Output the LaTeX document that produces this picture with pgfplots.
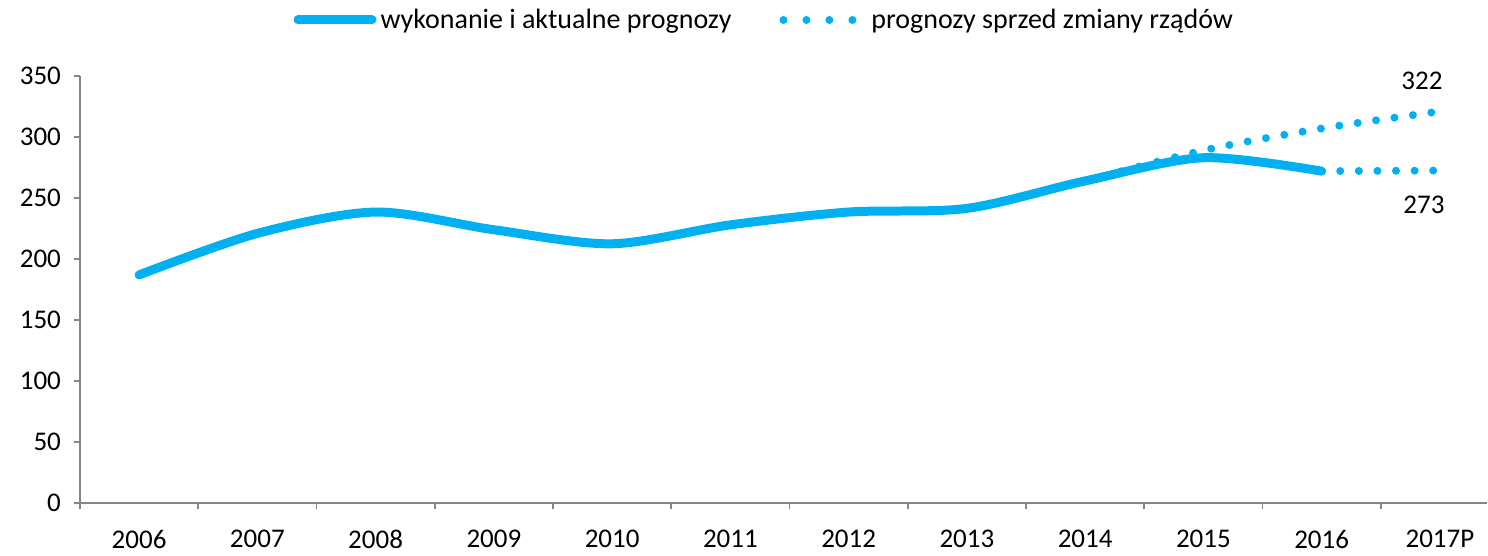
\documentclass[border=0pt]{standalone}
\usepackage{pgfplots}
\pgfplotsset{compat=1.18}
\usepackage{fontspec}
\setmainfont{Carlito}
\definecolor{sky}{HTML}{00B0F0}
\definecolor{axgray}{HTML}{868686}
\begin{document}
\begin{tikzpicture}
\begin{axis}[
  name=ax,
  scale only axis,
  width=704pt, height=213.7pt,
  xmin=-0.5, xmax=11.4,
  ymin=0, ymax=350,
  ytick={0,50,...,350},
  axis lines=left,
  axis line style={-, axgray, line width=0.8pt},
  tick style={axgray, line width=0.8pt},
  tick align=outside,
  major tick length=3pt,
  xtick={-0.5,0.5,...,10.5},
  xticklabels={},
  extra x ticks={0,1,...,11},
  extra x tick labels={2006,2007,2008,2009,2010,2011,2012,2013,2014,2015,2016,2017P},
  extra x tick style={major tick length=0pt, tick style={draw=none}},
  xticklabel style={yshift=-10pt},
  yticklabel style={xshift=-3pt},
  ticklabel style={font=\fontsize{13.5}{15}\selectfont},
  /pgf/number format/assume math mode=true,
  clip=false,
  legend columns=2,
  legend style={draw=none, fill=none, at={(0.487,1)}, anchor=center, yshift=28pt,
    font=\fontsize{14}{16}\selectfont,
    /tikz/every even column/.append style={column sep=22pt}},
]
\addplot[sky, line width=4.5pt, line cap=round, smooth, tension=0.5,
  legend image code/.code={\draw[sky, line width=4.5pt, line cap=round] (-2pt,0pt) -- (35pt,0pt);}]
  coordinates {(0,187) (1,221) (2,238.5) (3,224) (4,212.5) (5,228) (6,238.5) (7,241.5) (8,264) (9,283) (10,272)};
\addlegendentry{wykonanie i aktualne prognozy}
\addplot[sky, line width=4pt, line cap=round, dash pattern=on 0pt off 9.3pt, smooth, tension=0.5,
  legend image code/.code={\draw[sky, line width=4pt, line cap=round, dash pattern=on 0pt off 11.5pt] (0pt,0pt) -- (35pt,0pt); \path (40pt,0pt);}]
  coordinates {(8,264) (9,289) (10,307) (11,321)};
\addlegendentry{prognozy sprzed zmiany rządów}
\addplot[sky, line width=4pt, line cap=round, dash pattern=on 0pt off 9.3pt, forget plot]
  coordinates {(10,272) (11,272.5)};
\node[font=\fontsize{13.5}{15}\selectfont] at (axis cs:11,322) [xshift=-9pt, yshift=14.5pt] {322};
\node[font=\fontsize{13.5}{15}\selectfont] at (axis cs:11,273) [xshift=-8pt, yshift=-17.5pt] {273};
\end{axis}
\path[use as bounding box] ([shift={(-40pt,-23pt)}]ax.south west) rectangle ([shift={(0pt,38pt)}]ax.north east);
\end{tikzpicture}
\end{document}
